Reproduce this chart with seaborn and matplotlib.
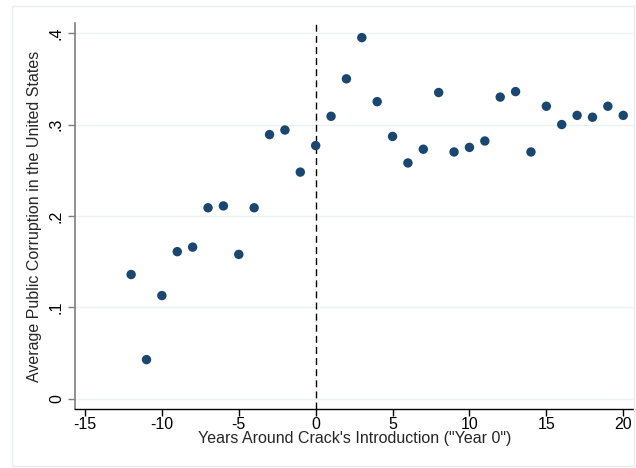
import numpy as np
import pandas as pd
import matplotlib.pyplot as plt
import seaborn as sns
from matplotlib.patches import Rectangle

sns.set_theme(style="white")
plt.rcParams["font.family"] = ["Liberation Sans", "DejaVu Sans"]

years = list(range(-12, 21))
corruption = [
    0.136, 0.043, 0.113, 0.161, 0.166, 0.209, 0.211, 0.158, 0.209, 0.289,
    0.294, 0.248, 0.277, 0.309, 0.350, 0.395, 0.325, 0.287, 0.258, 0.273,
    0.335, 0.270, 0.275, 0.282, 0.330, 0.336, 0.270, 0.320, 0.300, 0.310,
    0.308, 0.320, 0.310,
]
x_ticks = [-15, -10, -5, 0, 5, 10, 15, 20]
y_ticks = [0, 0.1, 0.2, 0.3, 0.4]
y_tick_labels = ["0", ".1", ".2", ".3", ".4"]

df = pd.DataFrame({"year": years, "corruption": corruption})

fig = plt.figure(figsize=(6.36, 4.68), dpi=100)
fig.patches.append(Rectangle((12 / 636, 2 / 468), 622 / 636, 460 / 468,
                             transform=fig.transFigure, fill=False,
                             edgecolor="#e6eef0", linewidth=1))
ax = fig.add_axes([75 / 636, 1 - 409 / 468, 559 / 636, 386 / 468])

for y in y_ticks:
    ax.axhline(y, color="#eaf2f3", linewidth=1, zorder=0)

sns.scatterplot(data=df, x="year", y="corruption", color="#1a476f",
                s=46, edgecolor="none", ax=ax, zorder=3)
ax.axvline(0, color="black", linestyle=(0, (5, 3)), linewidth=1, zorder=2)

ax.set_xlim(-15.65, 20.7)
ax.set_ylim(-0.011, 0.411)
ax.set_xticks(x_ticks)
ax.set_xticklabels([str(t) for t in x_ticks])
ax.set_yticks(y_ticks)
ax.set_yticklabels(y_tick_labels, rotation=90, va="center")

for side in ["top", "right"]:
    ax.spines[side].set_visible(False)
ax.spines["left"].set_color("#7f7f7f")
ax.spines["left"].set_linewidth(1.2)
ax.spines["bottom"].set_color("black")
ax.spines["bottom"].set_linewidth(1)

ax.tick_params(axis="both", direction="out", length=5, width=1,
               labelsize=11.5, labelcolor="black", bottom=True, left=True)
ax.tick_params(axis="y", color="#7f7f7f", pad=3)
ax.tick_params(axis="x", color="black", pad=1)

ax.set_xlabel("Years Around Crack's Introduction (\"Year 0\")", fontsize=11.5, labelpad=-1)
ax.set_ylabel("Average Public Corruption in the United States", fontsize=11.5, labelpad=5)

fig.savefig("out.png", dpi=100)
